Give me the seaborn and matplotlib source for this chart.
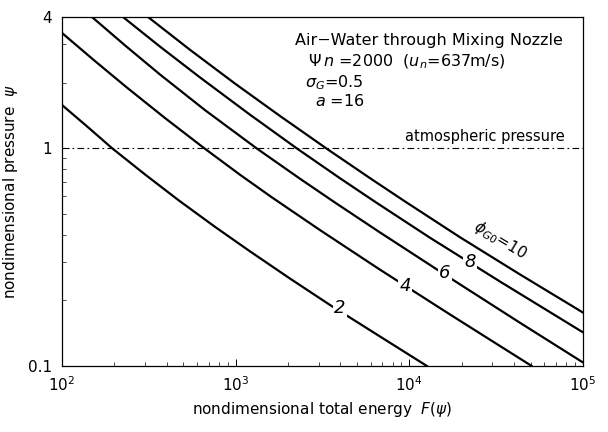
import numpy as np
import pandas as pd
import matplotlib
matplotlib.use("Agg")
import matplotlib.pyplot as plt
import matplotlib.ticker as mticker
import seaborn as sns

# ---- data (F, psi) per curve labelled by phi_G0 ----
F_2 = [100, 139.3, 194.1, 300.6, 465.6, 760.3, 1209, 2055, 3493, 6779, 12804]
P_2 = [1.578, 1.259, 1.0, 0.7574, 0.5792, 0.4353, 0.3360, 0.2520, 0.1906, 0.1366, 0.0993]

F_4 = [100, 154.9, 236.8, 391.8, 648.6, 1059, 1619, 3059, 6779, 17148, 50850]
P_4 = [3.378, 2.510, 1.896, 1.375, 1.009, 0.7551, 0.5940, 0.4207, 0.2768, 0.1724, 0.0998]

F_6 = [148.8, 230.6, 366.7, 666.0, 1327, 2347, 3732, 6779, 17148, 43370, 100000]
P_6 = [4.0, 2.963, 2.178, 1.4947, 0.9950, 0.7238, 0.5628, 0.4102, 0.2536, 0.1579, 0.1038]

F_8 = [224.5, 366.7, 623.2, 1209, 2255, 3988, 6343, 13152, 33266, 100000]
P_8 = [4.0, 2.925, 2.112, 1.4246, 0.9961, 0.7276, 0.5676, 0.3879, 0.2442, 0.1427]

F_10 = [312.8, 545.8, 991.1, 1800, 3357, 5935, 9441, 19573, 43370, 100000]
P_10 = [4.0, 2.828, 1.979, 1.405, 0.9924, 0.7284, 0.5694, 0.3900, 0.2632, 0.1759]

curve_phi = [2, 4, 6, 8, 10]
label_F = [3990, 9440, 16000, 22300]
label_P = [0.1845, 0.233, 0.267, 0.300]
label_txt = ["2", "4", "6", "8"]
top_label_F, top_label_P = 33300, 0.379

x_ticks = [1e2, 1e3, 1e4, 1e5]
y_ticks = [0.1, 1, 4]
y_ticklabels = ["0.1", "1", "4"]

series = {2: (F_2, P_2), 4: (F_4, P_4), 6: (F_6, P_6), 8: (F_8, P_8), 10: (F_10, P_10)}
rows = []
for phi in curve_phi:
    fs, ps = series[phi]
    for i, (f, p) in enumerate(zip(fs, ps)):
        rows.append({"phi": phi, "order": i, "F": f, "psi": p})
df = pd.DataFrame(rows)

sns.set_style("ticks")
plt.rcParams["font.family"] = ["DejaVu Sans"]
plt.rcParams["mathtext.fontset"] = "dejavusans"
for key in ["text.color", "axes.labelcolor", "xtick.color", "ytick.color", "axes.edgecolor"]:
    plt.rcParams[key] = "black"

fig = plt.figure(figsize=(6.08, 4.32), dpi=100)
ax = fig.add_axes([62 / 608, 1 - 366 / 432, (583 - 62) / 608, (366 - 17) / 432])
ax.set_xscale("log")
ax.set_yscale("log")

sns.lineplot(data=df, x="F", y="psi", hue="phi", palette=["black"] * len(curve_phi),
             units="phi", estimator=None, sort=False, legend=False, linewidth=1.6, ax=ax)

ax.axhline(1.0, color="black", linewidth=0.8, linestyle=(0, (6, 3, 1.5, 3)))
ax.text(7.9e4, 1.04, "atmospheric pressure", ha="right", va="bottom", fontsize=10.5)

for f, p, t in zip(label_F, label_P, label_txt):
    ax.text(f, p, t, ha="center", va="center", fontsize=13, fontstyle="italic",
            bbox=dict(facecolor="white", edgecolor="none", pad=1.0), zorder=5)
ax.text(top_label_F, top_label_P, r"$\phi_{G0}$=10", ha="center", va="center",
        fontsize=11, rotation=-31, zorder=5)

fig.text(295 / 608, 1 - 40 / 432, "Air\u2212Water through Mixing Nozzle",
         fontsize=11.5, ha="left", va="center")
fig.text(308 / 608, 1 - 62 / 432, r"$\Psi\,n$ =2000  ($u_n$=637m/s)", fontsize=11.5,
         ha="left", va="center")
fig.text(305 / 608, 1 - 83 / 432, r"$\sigma_G$=0.5", fontsize=11.5,
         ha="left", va="center")
fig.text(315 / 608, 1 - 101 / 432, r"$a$ =16", fontsize=11.5,
         ha="left", va="center")

ax.set_xlim(1e2, 1e5)
ax.set_ylim(0.1, 4)
ax.set_xticks(x_ticks)
ax.xaxis.set_major_formatter(mticker.LogFormatterMathtext())
ax.xaxis.set_minor_locator(mticker.LogLocator(base=10, subs=np.arange(2, 10)))
ax.xaxis.set_minor_formatter(mticker.NullFormatter())
ax.yaxis.set_major_locator(mticker.FixedLocator(y_ticks))
ax.yaxis.set_major_formatter(mticker.FixedFormatter(y_ticklabels))
ax.yaxis.set_minor_locator(mticker.LogLocator(base=10, subs=np.arange(2, 10)))
ax.yaxis.set_minor_formatter(mticker.NullFormatter())

ax.tick_params(which="major", direction="in", length=5, width=0.7, labelsize=11, pad=7)
ax.tick_params(which="minor", direction="in", length=3, width=0.5)
for s in ax.spines.values():
    s.set_linewidth(0.9)
    s.set_visible(True)

ax.set_xlabel(r"nondimensional total energy  $F(\psi)$", fontsize=11, labelpad=4)
ax.set_ylabel(r"nondimensional pressure  $\psi$", fontsize=11, labelpad=6)

fig.savefig("out.png", dpi=100, facecolor="white")
